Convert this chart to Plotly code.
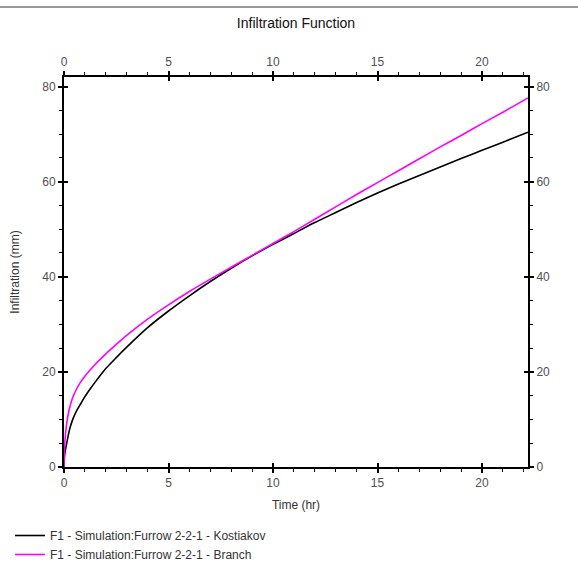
import plotly.graph_objects as go

# Data
time_hr = [0, 0.02, 0.05, 0.13, 0.25, 0.4, 0.6, 0.8, 1.0, 1.25, 1.5, 2.0, 2.5, 3.0, 4.0, 5.0,
           6.0, 7.0, 8.0, 9.0, 10.0, 11.0, 12.0, 13.0, 14.0, 15.0, 16.0, 17.0, 18.0, 19.0,
           20.0, 21.0, 22.2]
kostiakov = [0, 2.0, 3.2, 5.0, 7.6, 9.8, 11.8, 13.3, 14.8, 16.4, 17.9, 20.7, 23.0, 25.2, 29.3, 32.8,
             36.0, 39.0, 41.8, 44.4, 46.8, 49.1, 51.4, 53.5, 55.6, 57.6, 59.5, 61.3, 63.1, 64.85,
             66.6, 68.3, 70.4]
branch = [0, 3.8, 5.8, 9.2, 12.1, 14.4, 16.4, 17.9, 19.1, 20.4, 21.6, 23.8, 25.8, 27.7, 31.1, 34.1,
          36.9, 39.5, 42.0, 44.5, 47.0, 49.5, 52.1, 54.7, 57.3, 59.8, 62.3, 64.8, 67.3, 69.7,
          72.2, 74.6, 77.6]
series_names = ["F1 - Simulation:Furrow 2-2-1 - Kostiakov", "F1 - Simulation:Furrow 2-2-1 - Branch"]
series_colors = ["#000000", "#ff00ff"]
x_range = [0, 22.2]
y_range = [0, 82]

FONT = "Liberation Sans, Arial, sans-serif"
TICKCOL = "#505050"

fig = go.Figure()
for name, vals, col in zip(series_names, [kostiakov, branch], series_colors):
    fig.add_trace(go.Scatter(x=time_hr, y=vals, mode="lines", name=name,
                             line=dict(color=col, width=1.6, shape="spline", smoothing=0.6)))

# invisible helper traces so the mirror axes get drawn
for xa, ya in [("x2", "y2"), ("x3", "y3"), ("x4", "y4")]:
    fig.add_trace(go.Scatter(x=[x_range[0]], y=[y_range[0]], xaxis=xa, yaxis=ya, mode="markers",
                             marker=dict(opacity=0), showlegend=False, hoverinfo="skip"))

common_x = dict(range=x_range, dtick=5, tick0=0, showgrid=False, zeroline=False, automargin=False,
                tickfont=dict(family=FONT, size=12, color=TICKCOL), ticklen=4, tickwidth=1.5,
                tickcolor="#000")
common_y = dict(range=y_range, dtick=20, tick0=0, showgrid=False, zeroline=False, automargin=False,
                tickfont=dict(family=FONT, size=12, color=TICKCOL), ticklen=4, tickwidth=1.5,
                tickcolor="#000")
minor_x = dict(dtick=1, tick0=0, ticks="outside", ticklen=3, tickcolor="#000", tickwidth=1, showgrid=False)
minor_y = dict(dtick=5, tick0=0, ticks="outside", ticklen=3, tickcolor="#000", tickwidth=1, showgrid=False)

fig.update_layout(
    width=578, height=563,
    paper_bgcolor="white", plot_bgcolor="white",
    margin=dict(l=64, r=50, t=77, b=96, autoexpand=False),
    title=dict(text="Infiltration Function", x=(64 + 528) / 2 / 578, xanchor="center",
               y=1 - 23 / 563, yanchor="middle",
               font=dict(family=FONT, size=14, color="#111")),
    xaxis=dict(common_x, ticks="outside", minor=minor_x, showline=True, linecolor="#000", linewidth=2,
               title=dict(text="Time (hr)", font=dict(family=FONT, size=12, color="#333"), standoff=11)),
    xaxis2=dict(common_x, overlaying="x", matches="x", side="top", anchor="y2", ticks="outside",
                minor=minor_x, showline=True, linecolor="#000", linewidth=2),
    xaxis3=dict(common_x, overlaying="x", matches="x", side="bottom", anchor="y3", ticks="inside",
                showticklabels=False, showline=False),
    xaxis4=dict(common_x, overlaying="x", matches="x", side="top", anchor="y4", ticks="inside",
                showticklabels=False, showline=False),
    yaxis=dict(common_y, ticks="outside", minor=minor_y, showline=True, linecolor="#000", linewidth=2,
               title=dict(text="Infiltration (mm)", font=dict(family=FONT, size=12, color="#333"), standoff=20)),
    yaxis2=dict(common_y, overlaying="y", matches="y", side="right", anchor="x2", ticks="outside",
                minor=minor_y, showline=True, linecolor="#000", linewidth=2),
    yaxis3=dict(common_y, overlaying="y", matches="y", side="left", anchor="x3", ticks="inside",
                showticklabels=False, showline=False),
    yaxis4=dict(common_y, overlaying="y", matches="y", side="right", anchor="x4", ticks="inside",
                showticklabels=False, showline=False),
    legend=dict(x=-54 / 464, xanchor="left", y=-(521 - 467) / 390, yanchor="top",
                font=dict(family=FONT, size=12, color="#333"), tracegroupgap=0,
                bgcolor="rgba(0,0,0,0)"),
    showlegend=True,
    shapes=[dict(type="line", xref="paper", yref="paper", x0=-64 / 464, x1=(578 - 64) / 464,
                 y0=(467 - 7) / 390, y1=(467 - 7) / 390, line=dict(color="#333", width=1))],
)

fig.write_html("out.html", config={"displayModeBar": False},
               post_script="document.body.style.margin='0';document.body.style.padding='0';")
